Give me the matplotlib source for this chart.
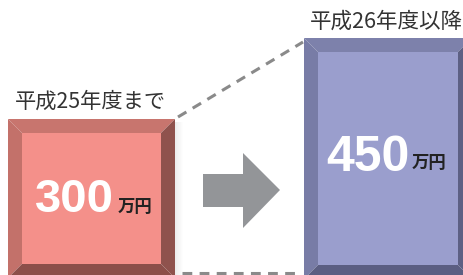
import matplotlib.pyplot as plt
from matplotlib.patches import Polygon, Rectangle

plt.rcParams['font.family'] = ['Noto Sans CJK JP', 'DejaVu Sans']

# ---------- data ----------
periods = ["平成25年度まで", "平成26年度以降"]
amounts = [300, 450]
unit = "万円"

# ---------- layout (pixels, y down) ----------
boxes = [(8, 119, 175, 278), (304, 38, 472, 279)]
bevel = 14
face_cols = ["#f4908a", "#9a9ecd"]
bevel_cols = [
    ("#c8756e", "#c3716a", "#8f524d", "#8c4f4a"),   # top, left, right, bottom
    ("#7d81ab", "#787ca6", "#5d6084", "#5b5e82"),
]

fig = plt.figure(figsize=(4.64, 2.75), dpi=100)
ax = fig.add_axes([0, 0, 1, 1])
ax.set_xlim(0, 464)
ax.set_ylim(275, 0)
ax.axis("off")

# dashed connector lines
ax.plot([178, 303], [117, 42], ls=(0, (3.2, 2.4)), color="#8a8a8a", lw=2.2)
ax.plot([182, 298], [273, 273], ls=(0, (3.2, 2.4)), color="#8a8a8a", lw=2.2)

# soft shadow right of left box
for i in range(8):
    x0, y0, x1, y1 = boxes[0]
    ax.add_patch(Rectangle((x1 + i, y0 + 3), 1, y1 - y0, color="#000000",
                           alpha=0.07 * (1 - i / 8), lw=0))

for k, (x0, y0, x1, y1) in enumerate(boxes):
    b = bevel
    top, left, right, bottom = bevel_cols[k]
    ax.add_patch(Rectangle((x0 + b, y0 + b), x1 - x0 - 2 * b, y1 - y0 - 2 * b,
                           color=face_cols[k], lw=0))
    ax.add_patch(Polygon([(x0, y0), (x1, y0), (x1 - b, y0 + b), (x0 + b, y0 + b)],
                         color=top, lw=0))
    ax.add_patch(Polygon([(x0, y0), (x0 + b, y0 + b), (x0 + b, y1 - b), (x0, y1)],
                         color=left, lw=0))
    ax.add_patch(Polygon([(x1, y0), (x1, y1), (x1 - b, y1 - b), (x1 - b, y0 + b)],
                         color=right, lw=0))
    ax.add_patch(Polygon([(x0, y1), (x1, y1), (x1 - b, y1 - b), (x0 + b, y1 - b)],
                         color=bottom, lw=0))

# arrow
ax.add_patch(Polygon([(203, 174), (243, 174), (243, 153), (280, 190),
                      (243, 228), (243, 207), (203, 207)],
                     color="#939598", lw=0))

# period labels
ax.text(90, 102, periods[0], ha="center", va="center", fontsize=15.3, color="#333333")
ax.text(386, 22, periods[1], ha="center", va="center", fontsize=15.5, color="#333333")

# amounts
ax.text(114, 212, str(amounts[0]), ha="right", va="baseline", fontsize=34,
        fontweight="bold", color="white", family=["Liberation Sans", "DejaVu Sans"])
ax.text(118, 212, unit, ha="left", va="baseline", fontsize=12.5,
        fontweight="bold", color="#222222")
ax.text(410, 171, str(amounts[1]), ha="right", va="baseline", fontsize=36,
        fontweight="bold", color="white", family=["Liberation Sans", "DejaVu Sans"])
ax.text(412, 168, unit, ha="left", va="baseline", fontsize=12.5,
        fontweight="bold", color="#222222")

fig.savefig("out.png", dpi=100)
